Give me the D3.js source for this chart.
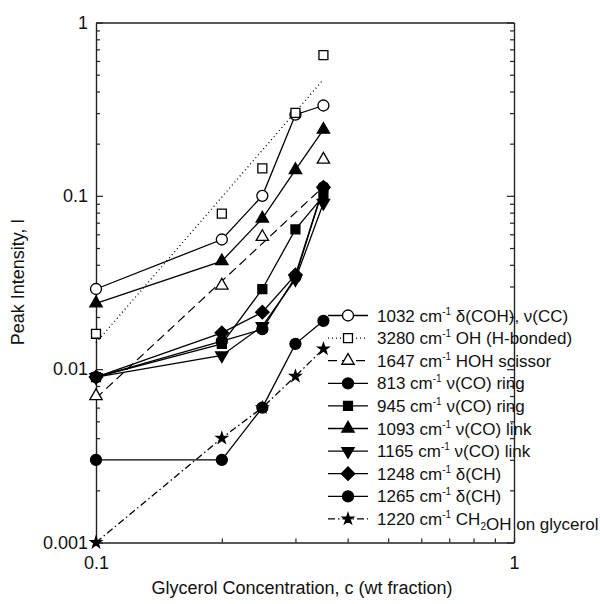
<!DOCTYPE html>
<html>
<head>
<meta charset="utf-8">
<script src="https://cdn.jsdelivr.net/npm/d3@7"></script>
<style>
  body { margin: 0; background: #fff; }
  svg { font-family: "Liberation Sans", Arial, Helvetica, sans-serif; }
</style>
</head>
<body>
<div id="chart"></div>
<script>
// glycerol concentration (wt fraction)
const conc = [0.1, 0.2, 0.25, 0.3, 0.35];

// peak intensities
const i1032 = [0.029, 0.056, 0.1, 0.294, 0.332];
const i3280 = [0.016, 0.079, 0.144, 0.301, 0.648];
const i1647 = [0.007, 0.0304, 0.058, null, 0.162];
const i813 = [0.009, 0.0145, 0.017, 0.034, 0.112];
const i945 = [0.009, 0.014, 0.029, 0.064, 0.1];
const i1093 = [0.024, 0.042, 0.074, 0.141, 0.241];
const i1165 = [0.009, 0.012, 0.0177, 0.033, 0.091];
const i1248 = [0.009, 0.0162, 0.0213, 0.035, 0.112];
const i1265 = [0.003, 0.003, 0.006, 0.014, 0.019];
const i1220 = [0.001, 0.004, 0.006, 0.0091, 0.0131];

// power-law fit lines (end points)
const fitX = [0.1, 0.35];
const fit3280 = [0.0142, 0.469];
const fit1647 = [0.0068, 0.113];

const xTicks = [0.1, 0.2, 0.3, 0.4, 0.5, 0.6, 0.7, 0.8, 0.9, 1];
const xLabels = ["0.1", "1"];
const yLabels = ["0.001", "0.01", "0.1", "1"];

// legend rows: wavenumber, assignment parts [text, kind]
const legendRows = [
  { id: "1032", parts: [["δ(COH), ν(CC)", ""]] },
  { id: "3280", parts: [["OH (H-bonded)", ""]] },
  { id: "1647", parts: [["HOH scissor", ""]] },
  { id: "813", parts: [["ν(CO) ring", ""]] },
  { id: "945", parts: [["ν(CO) ring", ""]] },
  { id: "1093", parts: [["ν(CO) link", ""]] },
  { id: "1165", parts: [["ν(CO) link", ""]] },
  { id: "1248", parts: [["δ(CH)", ""]] },
  { id: "1265", parts: [["δ(CH)", ""]] },
  { id: "1220", parts: [["CH", ""], ["2", "sub"], ["OH on glycerol", ""]] }
];

const W = 600, H = 604;
const margin = { top: 22.5, right: 86, bottom: 61.5, left: 96 };
const width = W - margin.left - margin.right;
const height = H - margin.top - margin.bottom;

const svg = d3.select("#chart").append("svg")
  .attr("width", W)
  .attr("height", H);

const g = svg.append("g")
  .attr("transform", `translate(${margin.left},${margin.top})`);

const x = d3.scaleLog().domain([0.1, 1]).range([0, width]);
const y = d3.scaleLog().domain([0.001, 1]).range([height, 0]);

const yTicks = y.ticks();
const isMajor = v => Math.abs(Math.log10(v) - Math.round(Math.log10(v))) < 1e-6;

// axes
const axLeft = g.append("g")
  .call(d3.axisLeft(y).tickValues(yTicks).tickSizeInner(-4).tickSizeOuter(0).tickPadding(8)
    .tickFormat(v => isMajor(v) ? yLabels[Math.round(Math.log10(v)) + 3] : ""));
const axRight = g.append("g")
  .attr("transform", `translate(${width},0)`)
  .call(d3.axisRight(y).tickValues(yTicks).tickSizeInner(-4).tickSizeOuter(0).tickFormat(""));
const axBottom = g.append("g")
  .attr("transform", `translate(0,${height})`)
  .call(d3.axisBottom(x).tickValues(xTicks).tickSizeInner(-4).tickSizeOuter(0).tickPadding(14)
    .tickFormat(v => v === 0.1 ? xLabels[0] : (v === 1 ? xLabels[1] : "")));
const axTop = g.append("g")
  .call(d3.axisTop(x).tickValues([]).tickSizeOuter(0));

[axLeft, axRight, axBottom, axTop].forEach(a => {
  a.select(".domain").attr("stroke", "#222").attr("stroke-width", 1.4);
  a.selectAll(".tick line").attr("stroke", "#222").attr("stroke-width", 1.2);
  a.selectAll("text").attr("fill", "#111").style("font-size", "18px");
});
axLeft.selectAll(".tick").filter(d => isMajor(d)).select("line").attr("x2", 7);
axRight.selectAll(".tick").filter(d => isMajor(d)).select("line").attr("x2", -7);

// axis titles
svg.append("text")
  .attr("x", 302).attr("y", 594)
  .attr("text-anchor", "middle")
  .style("font-size", "18px").attr("fill", "#111")
  .text("Glycerol Concentration, c (wt fraction)");
svg.append("text")
  .attr("transform", "translate(24,282) rotate(-90)")
  .attr("text-anchor", "middle")
  .style("font-size", "18px").attr("fill", "#111")
  .text("Peak Intensity, I");

// marker shapes
const diamond = { draw(ctx, size) { const r = Math.sqrt(size / 2); ctx.moveTo(0, -r); ctx.lineTo(r, 0); ctx.lineTo(0, r); ctx.lineTo(-r, 0); ctx.closePath(); } };
const markers = {
  circle: { type: d3.symbolCircle, size: 95 },
  square: { type: d3.symbolSquare, size: 80 },
  triangle: { type: d3.symbolTriangle, size: 66 },
  triDown: { type: d3.symbolTriangle, size: 66, rot: 180 },
  diamond: { type: diamond, size: 90 },
  star: { type: d3.symbolStar, size: 38 }
};

const series = [
  { id: "1032", vals: i1032, marker: "circle", fill: "white", line: true, dash: null },
  { id: "3280", vals: i3280, marker: "square", fill: "white", line: false, dash: "1,3" },
  { id: "1647", vals: i1647, marker: "triangle", fill: "white", line: false, dash: "9,5" },
  { id: "813", vals: i813, marker: "circle", fill: "#000", line: true, dash: null },
  { id: "945", vals: i945, marker: "square", fill: "#000", line: true, dash: null },
  { id: "1093", vals: i1093, marker: "triangle", fill: "#000", line: true, dash: null },
  { id: "1165", vals: i1165, marker: "triDown", fill: "#000", line: true, dash: null },
  { id: "1248", vals: i1248, marker: "diamond", fill: "#000", line: true, dash: null },
  { id: "1265", vals: i1265, marker: "circle", fill: "#000", line: true, dash: null },
  { id: "1220", vals: i1220, marker: "star", fill: "#000", line: true, dash: "7,3,1.5,3" }
];

const line = d3.line()
  .defined(d => d[1] != null)
  .x(d => x(d[0]))
  .y(d => y(d[1]));

function symbolPath(m) {
  return d3.symbol().type(markers[m].type).size(markers[m].size)();
}

// fit lines
g.append("path")
  .datum(fitX.map((c, i) => [c, fit3280[i]]))
  .attr("d", line).attr("fill", "none").attr("stroke", "#000")
  .attr("stroke-width", 1.3).attr("stroke-dasharray", "1,3");
g.append("path")
  .datum(fitX.map((c, i) => [c, fit1647[i]]))
  .attr("d", line).attr("fill", "none").attr("stroke", "#000")
  .attr("stroke-width", 1.2).attr("stroke-dasharray", "9,5");

// data lines
series.filter(s => s.line).forEach(s => {
  g.append("path")
    .datum(conc.map((c, i) => [c, s.vals[i]]).filter(d => d[1] != null))
    .attr("d", line)
    .attr("fill", "none")
    .attr("stroke", "#000")
    .attr("stroke-width", 1.3)
    .attr("stroke-dasharray", s.dash);
});

// markers
series.forEach(s => {
  const m = markers[s.marker];
  g.selectAll(null)
    .data(conc.map((c, i) => [c, s.vals[i]]).filter(d => d[1] != null))
    .enter().append("path")
    .attr("d", symbolPath(s.marker))
    .attr("transform", d => `translate(${x(d[0])},${y(d[1])})` + (m.rot ? ` rotate(${m.rot})` : ""))
    .attr("fill", s.fill)
    .attr("stroke", "#000")
    .attr("stroke-width", 1.3);
});

// legend
const legend = svg.append("g").attr("transform", "translate(328,315.5)");
const rowH = 22.6;
series.forEach((s, i) => {
  const row = legend.append("g").attr("transform", `translate(0,${i * rowH})`);
  row.append("line")
    .attr("x1", 0).attr("x2", 40)
    .attr("stroke", "#000").attr("stroke-width", 1.3)
    .attr("stroke-dasharray", s.dash);
  const m = markers[s.marker];
  row.append("path")
    .attr("d", symbolPath(s.marker))
    .attr("transform", `translate(20,0)` + (m.rot ? ` rotate(${m.rot})` : ""))
    .attr("fill", s.fill)
    .attr("stroke", "#000")
    .attr("stroke-width", 1.3);
  const t = row.append("text")
    .attr("x", 49).attr("y", 6)
    .style("font-size", "17px").attr("fill", "#111");
  const r = legendRows[i];
  t.append("tspan").text(r.id + " cm");
  t.append("tspan").attr("dy", -7).style("font-size", "10px").text("-1");
  t.append("tspan").attr("dy", 7).text(" ");
  r.parts.forEach(p => {
    if (p[1] === "sub") {
      t.append("tspan").attr("dy", 5).style("font-size", "10px").text(p[0]);
      t.append("tspan").attr("dy", -5).text("");
    } else {
      t.append("tspan").text(p[0]);
    }
  });
});
</script>
</body>
</html>
